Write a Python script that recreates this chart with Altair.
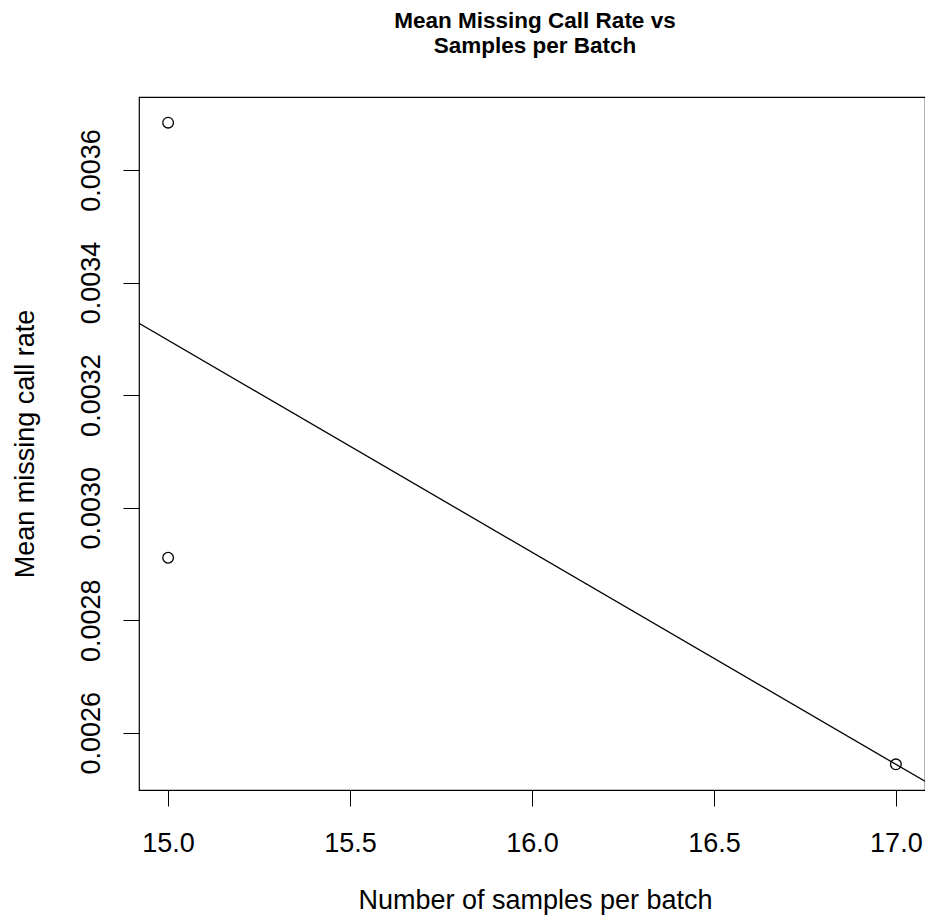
import altair as alt
import pandas as pd

# Data
samples_per_batch = [15, 15, 17]
mean_missing_rate = [0.003684, 0.002911, 0.002544]

x_ticks = [15.0, 15.5, 16.0, 16.5, 17.0]
y_ticks = [0.0026, 0.0028, 0.0030, 0.0032, 0.0034, 0.0036]

df = pd.DataFrame({"samples": samples_per_batch, "rate": mean_missing_rate})

# R-style 4% axis expansion
xmin, xmax = min(samples_per_batch), max(samples_per_batch)
ymin, ymax = min(mean_missing_rate), max(mean_missing_rate)
xpad = (xmax - xmin) * 0.04
ypad = (ymax - ymin) * 0.04
x_domain = [xmin - xpad, xmax + xpad]
y_domain = [ymin - ypad, ymax + ypad]

W, H = 786, 693
FONT = "Liberation Sans"

x_enc = alt.X(
    "samples:Q",
    scale=alt.Scale(domain=x_domain, nice=False, zero=False),
    axis=alt.Axis(
        values=x_ticks, format=".1f", tickSize=16, tickColor="black", tickWidth=1,
        labelPadding=45, labelBaseline="alphabetic", labelFontSize=27,
        labelFont=FONT, labelColor="black", labelFlush=False, labelOverlap=False,
        domain=False, grid=False,
        title="Number of samples per batch", titleFont=FONT, titleFontSize=27,
        titleFontWeight="normal", titleColor="black", titleBaseline="alphabetic",
        titleAlign="center", titleX=396, titleY=118,
    ),
)
y_enc = alt.Y(
    "rate:Q",
    scale=alt.Scale(domain=y_domain, nice=False, zero=False),
    axis=alt.Axis(
        values=y_ticks, format=".4f", tickSize=16, tickColor="black", tickWidth=1,
        labelAngle=270, labelAlign="center", labelBaseline="alphabetic",
        labelPadding=24, labelFontSize=27, labelFont=FONT, labelColor="black",
        labelFlush=False, labelOverlap=False, domain=False, grid=False,
        title="Mean missing call rate", titleFont=FONT, titleFontSize=27,
        titleFontWeight="normal", titleColor="black", titleAngle=270,
        titleAlign="center", titleBaseline="alphabetic", titleX=-106, titleY=H / 2,
    ),
)

base = alt.Chart(df)

points = base.mark_point(
    shape="circle", filled=False, size=113, strokeWidth=1.3, color="black", opacity=1
).encode(x=x_enc, y=y_enc)

fit = base.transform_regression(
    "samples", "rate", extent=x_domain
).mark_line(color="black", strokeWidth=1.3, clip=True).encode(x=x_enc, y=y_enc)

chart = (
    alt.layer(fit, points)
    .properties(
        width=W,
        height=H,
        title=alt.TitleParams(
            text=["Mean Missing Call Rate vs", "Samples per Batch"],
            font=FONT, fontSize=22.5, fontWeight="bold", color="black",
            anchor="middle", frame="group", baseline="bottom",
            lineHeight=25, offset=17, dx=3,
        ),
        padding={"left": 131, "top": 89, "right": 0, "bottom": 126},
        autosize=alt.AutoSizeParams(type="none"),
        background="white",
    )
    .configure_view(stroke="black", strokeWidth=1.2)
)

chart.save("out.html", embed_options={"renderer": "svg", "actions": False})
